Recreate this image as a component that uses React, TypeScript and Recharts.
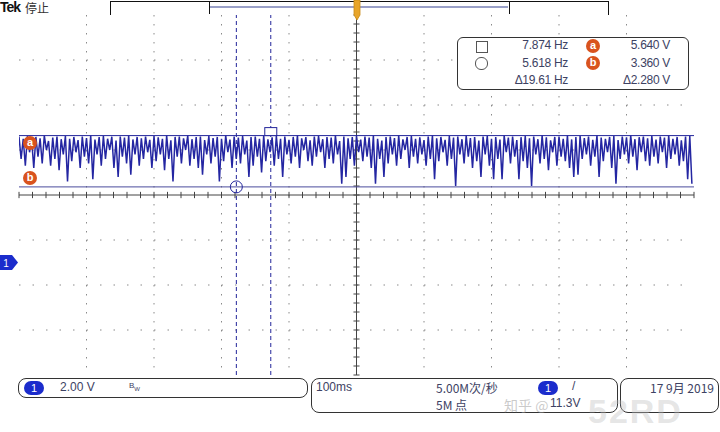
import {
  CartesianGrid,
  ComposedChart,
  Line,
  ReferenceDot,
  ReferenceLine,
  XAxis,
  YAxis,
} from "recharts";

// scope screen: 100 ms/div (10 div), 2 V/div (8 div), trigger at t = 0
const T_DOMAIN: [number, number] = [-500, 500];
const V_DOMAIN: [number, number] = [-5, 11];
const SAMPLE_MS = 3.125;

const MAJOR_T = [-400, -300, -200, -100, 100, 200, 300, 400];
const MAJOR_V = [-3, -1, 1, 5, 7, 9];
const CENTER_T = 0;
const CENTER_V = 3;

// top of each ripple cycle (V)
const PEAK_V = [
  5.6, 5.5, 5.62, 5.45, 5.58, 5.52, 5.64, 5.4, 5.55, 5.6,
  5.48, 5.62, 5.5, 5.58, 5.44, 5.6, 5.53, 5.64, 5.46, 5.57,
  5.62, 5.5, 5.59, 5.42, 5.6, 5.55, 5.64, 5.47, 5.58, 5.52,
  5.6, 5.45, 5.62, 5.56, 5.5, 5.64, 5.43, 5.58, 5.6, 5.52,
  5.64, 5.48, 5.57, 5.6, 5.44, 5.62, 5.53, 5.58, 5.5, 5.64,
  5.46, 5.6, 5.55, 5.62, 5.42, 5.58, 5.6, 5.5, 5.64, 5.47,
  5.56, 5.62, 5.5, 5.6, 5.45, 5.58, 5.64, 5.52, 5.57, 5.43,
  5.6, 5.62, 5.48, 5.58, 5.55, 5.64, 5.4, 5.6, 5.52, 5.57,
  5.62, 5.46, 5.6, 5.55, 5.64, 5.5, 5.42, 5.58, 5.6, 5.53,
  5.64, 5.47, 5.58, 5.62, 5.5, 5.56, 5.44, 5.6, 5.64, 5.52,
  5.58, 5.45, 5.62, 5.55, 5.6, 5.48, 5.64, 5.53, 5.57, 5.42,
  5.6, 5.62, 5.5, 5.58, 5.46, 5.64, 5.55, 5.6, 5.44, 5.57,
  5.62, 5.52, 5.6, 5.48, 5.64, 5.56, 5.43, 5.58, 5.6, 5.5,
  5.64, 5.47, 5.58, 5.62, 5.53, 5.6, 5.45, 5.64, 5.55, 5.5,
  5.58, 5.62, 5.44, 5.6, 5.56, 5.64, 5.48, 5.57, 5.6, 5.52,
  5.62, 5.46, 5.6, 5.55, 5.64, 5.5, 5.58, 5.43, 5.6, 5.62,
];

// bottom of each ripple cycle (V)
const DIP_V = [
  4.6, 4.3, 4.9, 4.2, 4.7, 4.4, 5.0, 4.3, 4.6, 4.1,
  4.8, 3.6, 4.5, 4.9, 4.2, 4.7, 4.4, 3.7, 4.8, 4.3,
  4.6, 5.0, 4.2, 3.8, 4.7, 4.4, 3.9, 4.8, 4.3, 4.6,
  4.9, 4.2, 4.5, 4.8, 4.1, 4.6, 3.6, 4.7, 4.4, 5.0,
  4.3, 4.6, 4.2, 3.9, 4.8, 4.4, 4.7, 3.6, 4.5, 4.9,
  4.2, 4.6, 4.4, 4.8, 3.8, 4.3, 4.7, 4.0, 4.5, 4.9,
  4.3, 4.6, 3.8, 4.8, 4.4, 4.7, 4.2, 5.0, 4.5, 4.3,
  4.7, 4.9, 4.2, 4.6, 4.4, 4.8, 3.5, 3.8, 4.6, 4.3,
  4.9, 4.5, 4.7, 4.2, 3.5, 4.6, 3.8, 4.4, 4.8, 4.3,
  4.6, 5.0, 4.2, 4.7, 4.4, 4.8, 4.3, 4.6, 3.7, 4.5,
  4.9, 4.3, 4.6, 3.4, 4.8, 4.4, 4.7, 4.2, 4.5, 3.8,
  4.8, 4.3, 3.7, 4.6, 3.7, 4.9, 4.4, 4.7, 3.7, 4.5,
  4.2, 3.4, 4.8, 4.4, 4.6, 4.1, 4.9, 4.3, 4.7, 4.5,
  4.2, 3.8, 3.9, 4.6, 4.8, 4.3, 4.7, 3.8, 4.5, 4.9,
  4.2, 3.5, 4.6, 4.8, 4.4, 4.7, 4.1, 4.9, 4.5, 4.3,
  4.7, 4.4, 4.9, 4.2, 4.6, 4.8, 4.3, 4.5, 3.7, 3.5,
];

// cursors: [circle, square] in time, [a, b] in volts
const CURSOR_T = [-178, -127];
const CURSOR_V = [5.64, 3.36];
const READ_HZ = ["7.874 Hz", "5.618 Hz", "\u039419.61 Hz"];
const READ_V = ["5.640 V", "3.360 V", "\u03942.280 V"];

const signal = PEAK_V.flatMap((p, i) => [
  { t: T_DOMAIN[0] + 2 * i * SAMPLE_MS, v: p },
  { t: T_DOMAIN[0] + (2 * i + 1) * SAMPLE_MS, v: DIP_V[i] },
]);

// graticule minor ticks (1/5 div)
const MINOR_T = Array.from({ length: 51 }, (_, i) => -500 + i * 20);
const MINOR_V = Array.from({ length: 41 }, (_, i) => +(-5 + i * 0.4).toFixed(1));

const NAVY = "#23259a";
const ORANGE = "#d9531e";
const TEXT = "#3d4263";
const FONT = "'Liberation Sans', Arial, sans-serif";
const CJK = "'Noto Sans CJK SC', 'Liberation Sans', sans-serif";

function Badge({ x, y, label }: { x: number; y: number; label: string }) {
  return (
    <div
      style={{
        position: "absolute",
        left: x - 7,
        top: y - 7,
        width: 14,
        height: 14,
        borderRadius: 7,
        background: ORANGE,
        color: "#fff",
        fontSize: 11,
        fontWeight: 700,
        lineHeight: "13px",
        textAlign: "center",
      }}
    >
      {label}
    </div>
  );
}

function ChanPill({ x, y }: { x: number; y: number }) {
  return (
    <div
      style={{
        position: "absolute",
        left: x,
        top: y,
        width: 20,
        height: 14,
        borderRadius: 7,
        background: "#1b2ccc",
        color: "#fff",
        fontSize: 11,
        lineHeight: "14px",
        textAlign: "center",
      }}
    >
      1
    </div>
  );
}

function SquareMark(props: { cx?: number; cy?: number }) {
  const { cx = 0, cy = 0 } = props;
  return (
    <rect x={cx - 6} y={cy - 8} width={12} height={8} fill="#fff" stroke={NAVY} strokeWidth={1} />
  );
}

export default function App() {
  return (
    <div
      style={{
        position: "absolute",
        left: 0,
        top: 0,
        width: 720,
        height: 432,
        background: "#fff",
        fontFamily: FONT,
        overflow: "hidden",
      }}
    >
      <ComposedChart
        width={720}
        height={432}
        data={signal}
        margin={{ top: 15, right: 26, bottom: 57, left: 19 }}
      >
        <XAxis dataKey="t" type="number" domain={T_DOMAIN} hide allowDataOverflow />
        <YAxis type="number" domain={V_DOMAIN} hide allowDataOverflow />

        {/* edge graticule */}
        <XAxis
          xAxisId="top"
          orientation="top"
          type="number"
          domain={T_DOMAIN}
          ticks={MINOR_T}
          tick={false}
          mirror
          height={0}
          tickSize={4}
          axisLine={{ stroke: "#111", strokeWidth: 1.5 }}
          tickLine={{ stroke: "#555" }}
        />
        <XAxis
          xAxisId="bottom"
          orientation="bottom"
          type="number"
          domain={T_DOMAIN}
          ticks={MINOR_T}
          tick={false}
          mirror
          height={0}
          tickSize={4}
          axisLine={{ stroke: "#111", strokeWidth: 2 }}
          tickLine={{ stroke: "#555" }}
        />
        <YAxis
          yAxisId="left"
          orientation="left"
          type="number"
          domain={V_DOMAIN}
          ticks={MINOR_V}
          tick={false}
          mirror
          width={0}
          tickSize={4}
          axisLine={{ stroke: "#111", strokeWidth: 2 }}
          tickLine={{ stroke: "#555" }}
        />
        <YAxis
          yAxisId="right"
          orientation="right"
          type="number"
          domain={V_DOMAIN}
          ticks={MINOR_V}
          tick={false}
          mirror
          width={0}
          tickSize={4}
          axisLine={{ stroke: "#333", strokeWidth: 1.5 }}
          tickLine={{ stroke: "#555" }}
        />

        <CartesianGrid
          vertical={false}
          horizontalValues={MAJOR_V}
          stroke="#8a8a8a"
          strokeDasharray="1.5 12"
        />
        <CartesianGrid
          horizontal={false}
          verticalValues={MAJOR_T}
          stroke="#8a8a8a"
          strokeDasharray="1.5 7.5"
        />

        {/* center cross with ticks */}
        <ReferenceLine x={CENTER_T} stroke="#444" strokeWidth={1} />
        <ReferenceLine y={CENTER_V} stroke="#444" strokeWidth={1} />
        {MINOR_T.map((t) => (
          <ReferenceLine
            key={"ct" + t}
            segment={[
              { x: t, y: CENTER_V - 0.14 },
              { x: t, y: CENTER_V + 0.14 },
            ]}
            stroke="#444"
          />
        ))}
        {MINOR_V.map((v) => (
          <ReferenceLine
            key={"cv" + v}
            segment={[
              { x: CENTER_T - 4.5, y: v },
              { x: CENTER_T + 4.5, y: v },
            ]}
            stroke="#444"
          />
        ))}

        {/* cursors */}
        {CURSOR_T.map((t) => (
          <ReferenceLine key={"xt" + t} x={t} stroke={NAVY} strokeDasharray="4 3" />
        ))}
        <ReferenceLine y={CURSOR_V[0]} stroke={NAVY} strokeWidth={1} />
        <ReferenceLine y={CURSOR_V[1]} stroke="#4a4c9c" strokeWidth={1} />

        <Line
          dataKey="v"
          type="linear"
          stroke="#2426a2"
          strokeWidth={1.5}
          dot={false}
          isAnimationActive={false}
        />

        <ReferenceDot x={CURSOR_T[1]} y={CURSOR_V[0]} shape={<SquareMark />} />
        <ReferenceDot
          x={CURSOR_T[0]}
          y={CURSOR_V[1]}
          r={6}
          fill="none"
          stroke={NAVY}
          strokeWidth={1}
        />
      </ComposedChart>

      {/* top bar */}
      <div
        style={{
          position: "absolute",
          left: 0,
          top: 0,
          fontSize: 14,
          lineHeight: "15px",
          fontWeight: 700,
          letterSpacing: -1,
          color: "#111",
        }}
      >
        Tek
      </div>
      <div
        style={{
          position: "absolute",
          left: 25,
          top: 0,
          fontSize: 12,
          lineHeight: "15px",
          color: "#333",
          fontFamily: CJK,
        }}
      >
        停止
      </div>
      <div
        style={{
          position: "absolute",
          left: 110,
          top: 1,
          width: 497,
          height: 13,
          borderTop: "1.5px solid #111",
          borderLeft: "1.5px solid #111",
          borderRight: "1.5px solid #111",
        }}
      />
      <div
        style={{
          position: "absolute",
          left: 209,
          top: 1,
          width: 299,
          height: 13,
          borderLeft: "1.5px solid #111",
          borderRight: "1.5px solid #111",
        }}
      />
      <div style={{ position: "absolute", left: 210, top: 6, width: 298, height: 2, background: "#9aa0c8" }} />
      <svg style={{ position: "absolute", left: 350, top: 0 }} width={14} height={22}>
        <path d="M4 0 H10 V15 L7 20 L4 15 Z" fill="#e8a52a" stroke="#c98a16" strokeWidth={0.8} />
      </svg>

      {/* cursor badges and ground marker */}
      <Badge x={30} y={143} label="a" />
      <Badge x={30} y={178} label="b" />
      <svg style={{ position: "absolute", left: 0, top: 254 }} width={20} height={17}>
        <path d="M0 1 H12 L18 8.5 L12 16 H0 Z" fill="#1b2ccc" />
        <text x={6} y={12.5} fontSize={10} fill="#fff" textAnchor="middle" fontFamily={FONT}>
          1
        </text>
      </svg>

      {/* measurement readout */}
      <div
        style={{
          position: "absolute",
          left: 457,
          top: 37,
          width: 230,
          height: 51,
          border: "1px solid #333",
          borderRadius: 6,
          background: "#fff",
        }}
      />
      <div
        style={{
          position: "absolute",
          left: 476,
          top: 41,
          width: 10,
          height: 10,
          border: "1px solid #555",
        }}
      />
      <div
        style={{
          position: "absolute",
          left: 475,
          top: 57,
          width: 11,
          height: 11,
          borderRadius: 6,
          border: "1px solid #555",
        }}
      />
      {READ_HZ.map((s, i) => (
        <div
          key={s}
          style={{
            position: "absolute",
            left: 480,
            top: 38 + i * 17.5,
            width: 88,
            textAlign: "right",
            fontSize: 12,
            letterSpacing: -0.3,
            color: TEXT,
          }}
        >
          {s}
        </div>
      ))}
      {READ_V.map((s, i) => (
        <div
          key={s}
          style={{
            position: "absolute",
            left: 590,
            top: 38 + i * 17.5,
            width: 80,
            textAlign: "right",
            fontSize: 12,
            letterSpacing: -0.3,
            color: TEXT,
          }}
        >
          {s}
        </div>
      ))}
      <Badge x={593} y={46} label="a" />
      <Badge x={593} y={63} label="b" />

      {/* status bar */}
      <div
        style={{
          position: "absolute",
          left: 18,
          top: 378,
          width: 288,
          height: 18,
          border: "1px solid #333",
          borderRadius: 8,
        }}
      />
      <ChanPill x={24} y={381} />
      <div style={{ position: "absolute", left: 60, top: 380, fontSize: 12, color: TEXT }}>2.00 V</div>
      <div style={{ position: "absolute", left: 129, top: 381, fontSize: 8, color: TEXT }}>
        B<sub style={{ fontSize: 6 }}>W</sub>
      </div>

      <div
        style={{
          position: "absolute",
          left: 311,
          top: 378,
          width: 305,
          height: 33,
          border: "1px solid #333",
          borderRadius: 8,
        }}
      />
      <div style={{ position: "absolute", left: 316, top: 380, fontSize: 12, color: TEXT }}>100ms</div>
      <div style={{ position: "absolute", left: 436, top: 379, fontSize: 12, color: TEXT, fontFamily: CJK }}>
        5.00M次/秒
      </div>
      <div style={{ position: "absolute", left: 436, top: 396, fontSize: 12, color: TEXT, fontFamily: CJK }}>
        5M 点
      </div>
      <ChanPill x={538} y={381} />
      <div style={{ position: "absolute", left: 572, top: 379, fontSize: 12, color: TEXT }}>/</div>
      <div style={{ position: "absolute", left: 550, top: 396, fontSize: 12, color: TEXT }}>11.3V</div>

      <div
        style={{
          position: "absolute",
          left: 620,
          top: 378,
          width: 97,
          height: 33,
          border: "1px solid #333",
          borderRadius: 8,
        }}
      />
      <div
        style={{
          position: "absolute",
          left: 620,
          top: 379,
          width: 94,
          textAlign: "right",
          fontSize: 12,
          color: TEXT,
          fontFamily: CJK,
        }}
      >
        17 9月 2019
      </div>

      {/* watermark */}
      <div
        style={{
          position: "absolute",
          left: 504,
          top: 395,
          fontSize: 14,
          color: "rgba(150,150,150,0.5)",
          fontFamily: CJK,
        }}
      >
        知乎 @
      </div>
      <div
        style={{
          position: "absolute",
          left: 588,
          top: 392,
          fontSize: 34,
          lineHeight: "38px",
          fontWeight: 700,
          color: "rgba(190,190,190,0.4)",
          letterSpacing: 2,
        }}
      >
        52RD
      </div>
    </div>
  );
}
